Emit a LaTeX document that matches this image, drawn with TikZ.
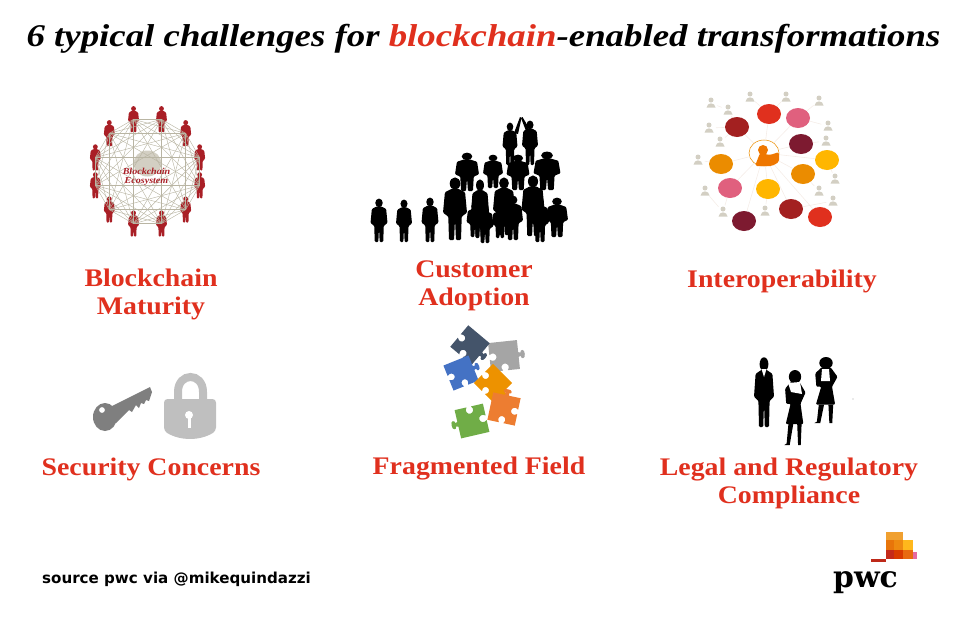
\documentclass[tikz,border=0pt]{standalone}
\usepackage{fontspec}
\usetikzlibrary{shapes.geometric}
\newfontfamily\titlefont[FakeStretch=1.1]{Liberation Serif}
\newfontfamily\bigfont[FakeStretch=1.165]{Liberation Serif}
\newfontfamily\logofont{DejaVu Serif}
\setsansfont{DejaVu Sans}
\definecolor{pwcred}{HTML}{E0301E}
\definecolor{darkred}{HTML}{A32020}
\definecolor{pwcpink}{HTML}{E0607E}
\definecolor{maroon}{HTML}{7D1A30}
\definecolor{pwcyellow}{HTML}{FFB600}
\definecolor{pwcorange}{HTML}{EB8C00}
\definecolor{chainred}{HTML}{A91F26}
\definecolor{webgray}{HTML}{B9B5A3}
\definecolor{paleline}{HTML}{F5EDE8}
\definecolor{smallgray}{HTML}{D3CFC3}
\definecolor{keygray}{HTML}{7F7F7F}
\definecolor{lockgray}{HTML}{BFBFBF}
\definecolor{piecenavy}{HTML}{44546A}
\definecolor{piecegray}{HTML}{A5A5A5}
\definecolor{pieceblue}{HTML}{4472C4}
\definecolor{pieceamber}{HTML}{ED9200}
\definecolor{pieceorange}{HTML}{ED7D31}
\definecolor{piecegreen}{HTML}{70AD47}
\tikzset{
  heading/.style={font=\titlefont\bfseries\fontsize{14.4}{16}\selectfont,text=pwcred,align=center,inner sep=0},
  bubble/.style={ellipse,minimum width=0.48cm,minimum height=0.4cm,inner sep=0},
  smallnode/.style={circle,minimum size=0.26cm,inner sep=0},
  link/.style={paleline,line width=0.35pt},
  web/.style={webgray,line width=0.25pt}
}
% x top bottom, width, colour
\newcommand{\person}[5]{
\begin{scope}[shift={({#1},{#2})},xscale=#4,yscale={(#3)-(#2)}]
\fill[#5] (0,0.09) ellipse [x radius=0.22,y radius=0.1];
\fill[#5,rounded corners=0.6pt] (-0.12,0.17) -- (-0.42,0.23) -- (-0.5,0.56) -- (-0.36,0.6) -- (-0.28,0.62) -- (-0.25,1) -- (-0.04,1) -- (0,0.66) -- (0.04,1) -- (0.25,1) -- (0.28,0.62) -- (0.36,0.6) -- (0.5,0.56) -- (0.42,0.23) -- (0.12,0.17) -- cycle;
\end{scope}
}
% x y
\newcommand{\smallfig}[2]{
\begin{scope}[shift={(#1,#2)}]
\fill[smallgray] (0,-3) circle (2.5);
\fill[smallgray] (-4.5,4.5) .. controls (-4,-1) and (4,-1) .. (4.5,4.5) -- cycle;
\end{scope}
}
% x top bottom width
\newcommand{\lady}[4]{
\begin{scope}[shift={(#1,#2)},xscale=#4,yscale=#3-#2]
\fill (0,0.09) ellipse [x radius=0.28,y radius=0.09];
\fill[rounded corners=0.6pt] (-0.2,0.16) -- (-0.45,0.25) -- (-0.4,0.45) -- (-0.2,0.45) -- (-0.42,0.72) -- (0.38,0.72) -- (0.25,0.45) -- (0.48,0.3) -- (0.2,0.16) -- cycle;
\fill (-0.3,0.72) -- (-0.38,0.98) -- (-0.48,1) -- (-0.24,1) -- (-0.08,0.72) -- cycle;
\fill (0.1,0.72) -- (0.14,1) -- (0.26,1) -- (0.3,0.72) -- cycle;
\end{scope}
}
% x y rotation side colour
\newcommand{\puzzle}[5]{
\fill[#5,shift={(#1,#2)},rotate=#3,scale=#4] (-0.5,-0.5) -- (0.5,-0.5) -- (0.5,-0.08) -- (0.58,-0.06) .. controls (0.56,-0.18) and (0.74,-0.18) .. (0.72,0) .. controls (0.74,0.18) and (0.56,0.18) .. (0.58,0.06) -- (0.5,0.08) -- (0.5,0.5) -- (0.08,0.5) .. controls (0.18,0.38) and (0.1,0.26) .. (0,0.26) .. controls (-0.1,0.26) and (-0.18,0.38) .. (-0.08,0.5) -- (-0.5,0.5) -- (-0.5,0.08) .. controls (-0.38,0.18) and (-0.26,0.1) .. (-0.26,0) .. controls (-0.26,-0.1) and (-0.38,-0.18) .. (-0.5,-0.08) -- cycle;
}
\begin{document}
\begin{tikzpicture}[x=0.02cm,y=-0.02cm]
\useasboundingbox (0,0) rectangle (966,616);

\node (title) at (483.5,39) [font=\bigfont\bfseries\itshape\fontsize{18}{20}\selectfont,inner sep=0] {6 typical challenges for \textcolor{pwcred}{blockchain}-enabled transformations};

% blockchain ecosystem
\begin{scope}[shift={(147.5,171.5)}]
\foreach \i in {0,...,11}
  \coordinate (n\i) at ({15+30*\i}:54);
\foreach \i in {0,...,11} {
  \pgfmathsetmacro{\px}{cos(15+30*\i)*54}
  \pgfmathsetmacro{\py}{sin(15+30*\i)*54}
  \person{\px}{\py-13}{\py+13}{11}{chainred}
}
\fill[smallgray] (0,-8) ellipse [x radius=14,y radius=13];
\foreach \i in {0,...,11}
  \foreach \j in {1,...,5} {
    \pgfmathtruncatemacro{\k}{mod(\i+\j,12)}
    \draw[web] (n\i) -- (n\k);
  }
\node (eco) at (-1,5) [font=\titlefont\bfseries\itshape\fontsize{5.2}{5.2}\selectfont,text=chainred,align=center,inner sep=0] {Blockchain\\Ecosystem};
\end{scope}
\node (maturity) at (151,294) [heading] {Blockchain\\Maturity};

% crowd
\person{467}{153}{191}{24}{black}
\person{493}{155}{188}{20}{black}
\person{518}{155}{190}{23}{black}
\person{547}{152}{190}{27}{black}
\person{379}{199}{242}{17}{black}
\person{404}{200}{242}{16}{black}
\person{430}{198}{242}{17}{black}
\person{455}{178}{240}{24}{black}
\person{480}{180}{238}{18}{black}
\person{475}{203}{237}{17}{black}
\person{485}{205}{243}{17}{black}
\person{504}{178}{235}{22}{black}
\person{500}{206}{238}{16}{black}
\person{513}{196}{240}{20}{black}
\person{533}{176}{236}{23}{black}
\person{540}{198}{242}{18}{black}
\person{557}{198}{237}{22}{black}
\person{510}{123}{165}{15}{black}
\person{530}{121}{165}{16}{black}
\fill (514,133) -- (520,117) -- (521.5,118) -- (518,134) -- cycle;
\fill (526,131) -- (521,118) -- (522.5,117) -- (529,128) -- cycle;
\node (adoption) at (474,286) [heading] {Customer\\Adoption};

% interoperability
\node (hub) at (764,153) [ellipse,draw=pwcorange,line width=0.3pt,minimum width=0.6cm,minimum height=0.52cm,inner sep=0] {};
\node (b1) at (769,114) [bubble,fill=pwcred] {};
\node (b2) at (798,118) [bubble,fill=pwcpink] {};
\node (b3) at (737,127) [bubble,fill=darkred] {};
\node (b4) at (801,144) [bubble,fill=maroon] {};
\node (b5) at (827,160) [bubble,fill=pwcyellow] {};
\node (b6) at (803,174) [bubble,fill=pwcorange] {};
\node (b7) at (721,164) [bubble,fill=pwcorange] {};
\node (b8) at (730,188) [bubble,fill=pwcpink] {};
\node (b9) at (768,189) [bubble,fill=pwcyellow] {};
\node (b10) at (791,209) [bubble,fill=darkred] {};
\node (b11) at (820,217) [bubble,fill=pwcred] {};
\node (b12) at (744,221) [bubble,fill=maroon] {};
\foreach \i in {1,...,12}
  \draw[link] (hub) -- (b\i);
\foreach \x/\y [count=\c] in {711/103,728/110,709/128,720/142,698/160,705/191,723/212,765/211,750/97,786/97,819/101,828/126,826/141,835/179,819/191,833/201} {
  \node (s\c) at (\x,\y) [smallnode] {};
  \smallfig{\x}{\y}
}
\foreach \a/\b in {s1/s2,s2/b3,s3/b3,s4/b3,s5/b7,s6/s7,s7/b8,s8/b9,s9/b1,s10/b1,s11/b2,s12/b2,s13/b4,s14/b5,s15/b6,s16/b10}
  \draw[link] (\a) -- (\b);
\fill[pwcorange!85!red] (763,150) circle (5);
\fill[pwcorange!85!red,rounded corners=1pt] (755,166) -- (760,153) -- (770,155) -- (779,152) -- (779,162) -- (772,166) -- cycle;
\node (interop) at (782,281) [heading] {Interoperability};

% key and lock
\fill[keygray,even odd rule] (105,417) ellipse [x radius=12,y radius=14] (102,410) circle (3);
\fill[keygray] (112,406) -- (150,387) -- (152,392) -- (149,401) -- (146,400) -- (144,404) -- (141,403) -- (139,408) -- (136,405) -- (132,412) -- (129,410) -- (116,423) -- cycle;
\draw[lockgray,line width=0.16cm] (178,400) -- (178,392) .. controls (178,372) and (203,372) .. (203,392) -- (203,400);
\fill[lockgray,rounded corners=2pt] (164,399) -- (216,399) -- (216,431) .. controls (200,441) and (180,441) .. (164,431) -- cycle;
\fill[white] (189,415) circle (4);
\fill[white] (187.5,416) rectangle (190.5,428);
\node (security) at (151,469) [heading] {Security Concerns};

% puzzle
\puzzle{504}{356}{6}{29}{piecegray}
\puzzle{470}{345}{-40}{28}{piecenavy}
\puzzle{461}{373}{22}{27}{pieceblue}
\puzzle{493}{383}{-45}{27}{pieceamber}
\puzzle{504}{409}{78}{28}{pieceorange}
\puzzle{472}{421}{193}{29}{piecegreen}
\node (field) at (479,469) [heading] {Fragmented Field};

% executives
\person{764}{358}{427}{20}{black}
\fill[white] (761.5,369) -- (766.5,369) -- (764,377) -- cycle;
\lady{795}{370}{445}{22}
\fill[white] (788,383) -- (800,382) -- (802,394) -- (791,392) -- cycle;
\lady{826}{357}{423}{24}
\fill[white] (822,369) -- (829,369) -- (830,381) -- (821,381) -- cycle;
\fill (853,399) circle (0.4);
\node (legal) at (789,483) [heading] {Legal and Regulatory\\Compliance};

% source and logo
\node (source) at (176.5,579) [font=\sffamily\bfseries\fontsize{8.6}{10}\selectfont,inner sep=0] {source pwc via @mikequindazzi};
\foreach \xa/\ya/\xb/\yb/\col in {886/532/903/540/F0A030,886/540/894/550/E8750A,894/540/903/550/EE8A10,903/540/913/550/FFB81C,886/550/894/559/C52A1A,894/550/903/559/D93A00,903/550/913/559/E86A10,913/552/917/559/E669A0}{
  \definecolor{tmp}{HTML}{\col}
  \fill[tmp] (\xa,\ya) rectangle (\xb,\yb);
}
\fill[pwcred!85!black] (871,559) rectangle (886,562);
\node (logo) at (865.5,583) [font=\logofont\bfseries\fontsize{17}{20}\selectfont,inner sep=0] {pwc};
\end{tikzpicture}
\end{document}
